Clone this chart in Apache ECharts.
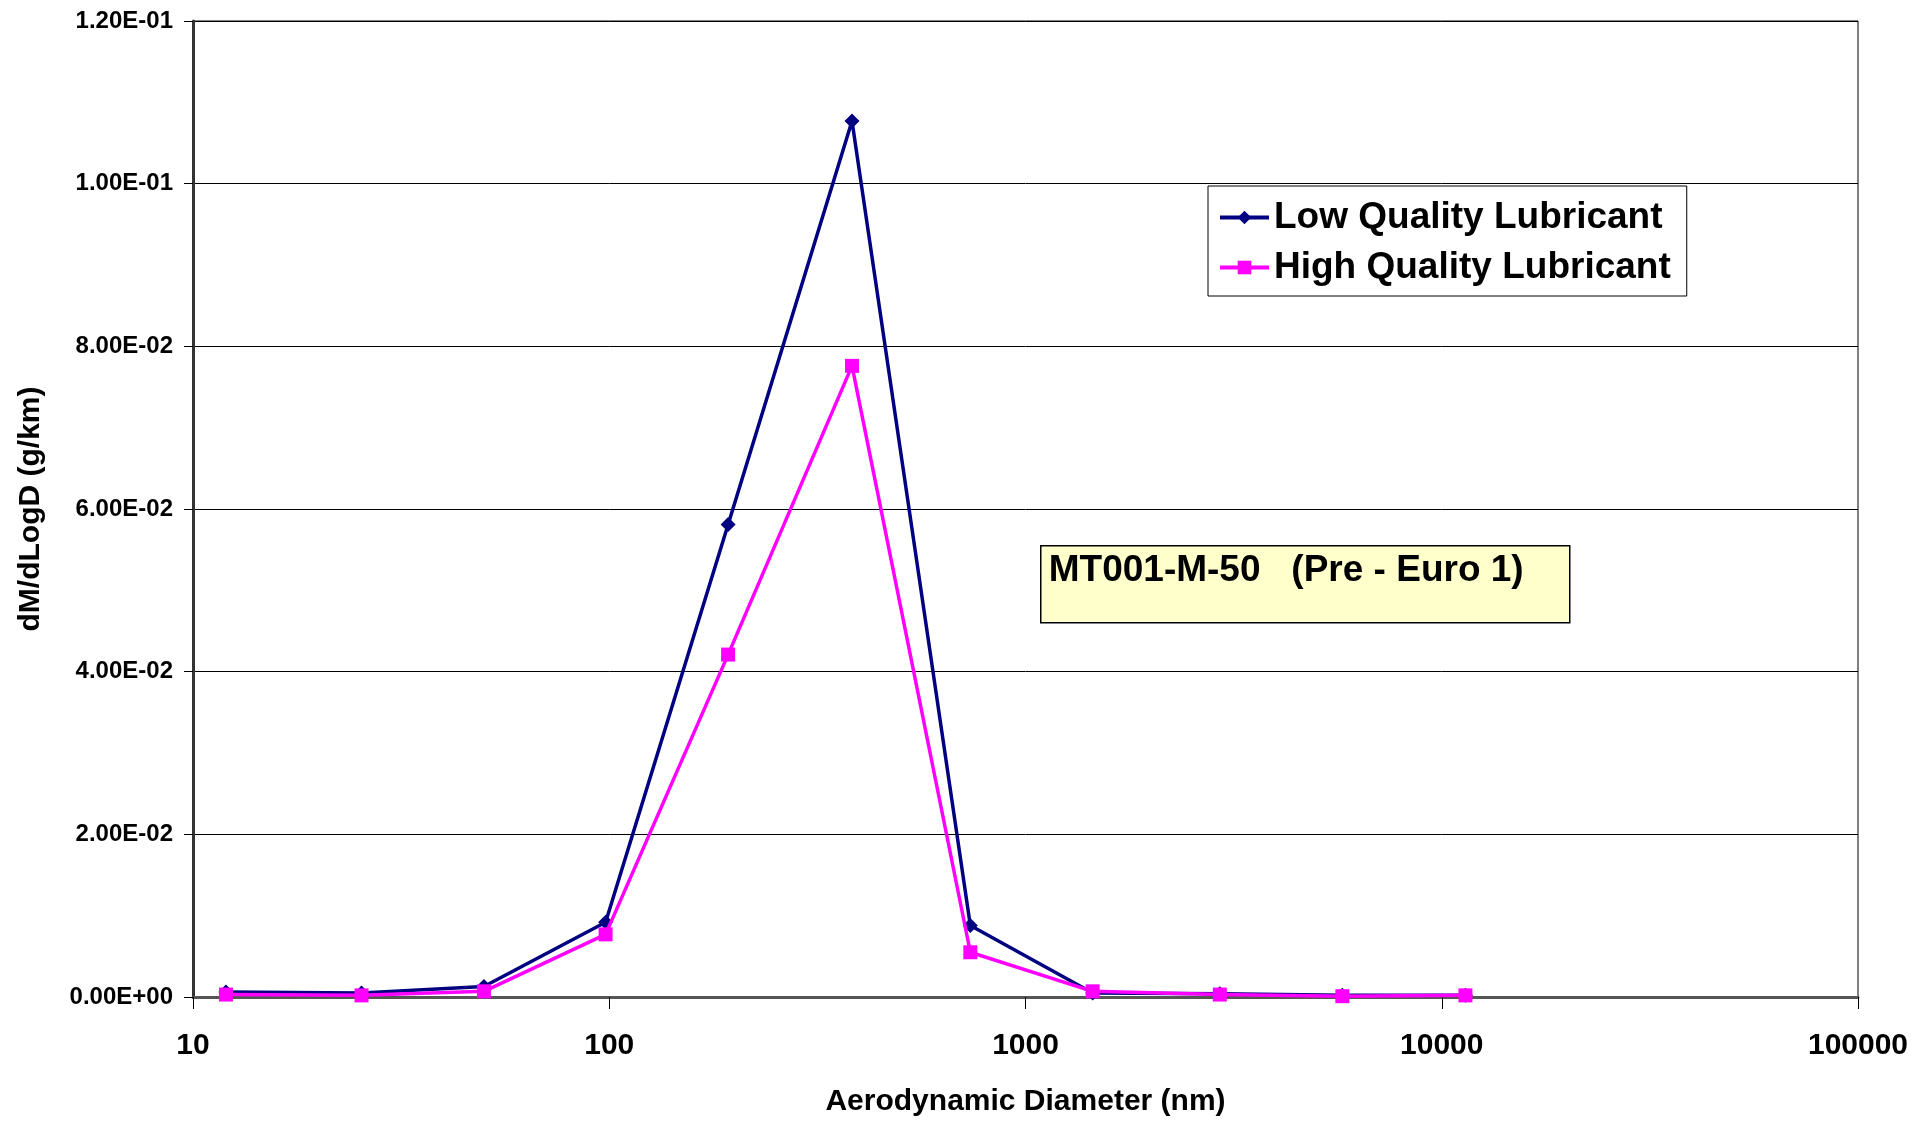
<!DOCTYPE html>
<html>
<head>
<meta charset="utf-8">
<script src="https://cdn.jsdelivr.net/npm/echarts@6/dist/echarts.min.js"></script>
<style>
  html, body { margin: 0; padding: 0; background: #fff; }
  #chart { width: 1917px; height: 1122px; }
</style>
</head>
<body>
<div id="chart"></div>
<script>
// 粒径分布数据 (nm)
const diameters = [12, 25.4, 50, 98, 193, 383, 737, 1450, 2930, 5770, 11400];
const lowQuality = [0.0006, 0.0005, 0.0013, 0.0092, 0.0581, 0.1077, 0.0088, 0.0005, 0.0004, 0.0002, 0.0002];
const highQuality = [0.0003, 0.0002, 0.0007, 0.0077, 0.0421, 0.0776, 0.0055, 0.0007, 0.0003, 0.0001, 0.0002];
const seriesNames = ['Low Quality Lubricant', 'High Quality Lubricant'];
const noteText = 'MT001-M-50   (Pre - Euro 1)';

const FONT = '"Liberation Sans", Arial, sans-serif';

// Excel风格的科学计数法 1.20E-01
function sciLabel(v) {
    if (Math.abs(v) < 1e-12) return '0.00E+00';
    let e = Math.floor(Math.log10(Math.abs(v)) + 1e-9);
    let m = v / Math.pow(10, e);
    return m.toFixed(2) + 'E' + (e < 0 ? '-' : '+') + String(Math.abs(e)).padStart(2, '0');
}

function pairs(xs, ys) {
    return xs.map((x, i) => [x, ys[i]]);
}

const chart = echarts.init(document.getElementById('chart'));

const option = {
    backgroundColor: '#fff',
    animation: false,
    grid: {
        left: 193, top: 21, right: 59, bottom: 122,
        show: true, borderColor: '#000', borderWidth: 1
    },
    legend: {
        orient: 'vertical',
        left: 1208, top: 186,
        padding: [13, 16, 10, 10],
        itemGap: 13,
        itemWidth: 49, itemHeight: 17,
        lineStyle: { width: 4 },
        backgroundColor: '#fff',
        borderColor: '#000', borderWidth: 1,
        textStyle: { fontFamily: FONT, fontWeight: 'bold', fontSize: 37, color: '#000' },
        data: seriesNames
    },
    xAxis: {
        type: 'log',
        logBase: 10,
        min: 10, max: 100000,
        name: 'Aerodynamic Diameter (nm)',
        nameLocation: 'middle',
        nameGap: 90,
        nameTextStyle: { fontFamily: FONT, fontWeight: 'bold', fontSize: 30, color: '#000' },
        axisLine: { lineStyle: { color: '#555', width: 3 } },
        axisTick: { show: true, inside: false, length: 12, lineStyle: { color: '#000', width: 1 } },
        minorTick: { show: false },
        splitLine: { show: false },
        axisLabel: {
            margin: 34,
            fontFamily: FONT, fontWeight: 'bold', fontSize: 30, color: '#000',
            formatter: v => String(Math.round(v))
        }
    },
    yAxis: {
        type: 'value',
        min: 0, max: 0.12, interval: 0.02,
        name: 'dM/dLogD (g/km)',
        nameLocation: 'middle',
        nameGap: 147,
        nameTextStyle: { fontFamily: FONT, fontWeight: 'bold', fontSize: 30, color: '#000' },
        axisLine: { show: true, lineStyle: { color: '#333', width: 3 } },
        axisTick: { show: true, inside: false, length: 9, lineStyle: { color: '#000', width: 1 } },
        splitLine: { show: true, lineStyle: { color: '#000', width: 1 } },
        axisLabel: {
            margin: 20,
            fontFamily: FONT, fontWeight: 'bold', fontSize: 24, color: '#000',
            formatter: sciLabel
        }
    },
    series: [
        {
            name: seriesNames[0],
            type: 'line',
            data: pairs(diameters, lowQuality),
            symbol: 'diamond',
            symbolSize: 15,
            showAllSymbol: true,
            itemStyle: { color: '#000080' },
            lineStyle: { color: '#000080', width: 3.5 },
            z: 3
        },
        {
            name: seriesNames[1],
            type: 'line',
            data: pairs(diameters, highQuality),
            symbol: 'rect',
            symbolSize: 14,
            showAllSymbol: true,
            itemStyle: { color: '#FF00FF' },
            lineStyle: { color: '#FF00FF', width: 3.5 },
            z: 4
        }
    ],
    graphic: [
        {
            type: 'group',
            left: 1040, top: 545,
            children: [
                {
                    type: 'rect',
                    shape: { x: 0, y: 0, width: 529, height: 77 },
                    style: { fill: '#FFFFCC', stroke: '#000', lineWidth: 1.5 }
                },
                {
                    type: 'text',
                    x: 8, y: 7,
                    style: {
                        text: noteText,
                        fontFamily: FONT, fontWeight: 'bold', fontSize: 37, fill: '#000'
                    }
                }
            ]
        }
    ]
};

chart.setOption(option);
</script>
</body>
</html>
